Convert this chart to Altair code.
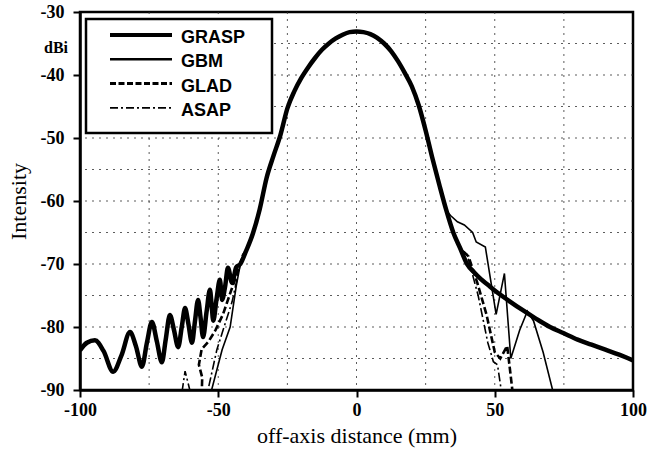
import altair as alt
import pandas as pd

# ---------------- data ----------------
series_names = ["GRASP", "GBM", "GLAD", "ASAP"]

# common main beam (mm, dBi)
beam_x = [-42, -40, -37.5, -35, -32.5, -30, -27.5, -25, -22.5, -20, -17.5, -15, -12.5, -10,
          -7.5, -5, -2.5, 0, 2.5, 5, 7.5, 10, 12.5, 15, 17.5, 20, 22.5, 25, 27.5, 30,
          32.5, 35, 37.5, 40]
beam_y = [-70, -68, -65.2, -61.3, -56.3, -52.8, -49.5, -45.3, -42.6, -40.5, -38.8, -37.3, -36, -35,
          -34.2, -33.6, -33.2, -33.1, -33.2, -33.5, -34.1, -35, -36.2, -37.8, -39.7, -41.8, -44.8, -48.8,
          -53.3, -57.5, -61.5, -65, -67.5, -70]

# GRASP side lobes
grasp_left_x = [-100, -97.5, -94.6, -91.5, -88, -85, -81.9, -79.8, -77.6, -75.8, -74, -72.2, -70.4,
                -69, -67.5, -66, -64.5, -63.2, -62, -60.8, -59.5, -58.4, -57.3, -56.4, -55.5, -54.2,
                -53, -52.4, -51.8, -50.6, -49.4, -48.6, -47.5, -46.5, -45, -43.5]
grasp_left_y = [-83.7, -82.5, -82.1, -83.8, -87.1, -84.5, -80.8, -83, -86.3, -82.5, -79.2, -82.3, -85.6,
                -82, -78.1, -80.5, -83.2, -80, -77, -79.5, -82.5, -79, -75.7, -78.5, -81.6, -77.5,
                -74.1, -76.5, -79, -75.5, -72.5, -75.7, -73.5, -70.6, -73, -70.5]
grasp_right_x = [42.5, 45, 47.5, 50, 55, 60, 65, 70, 75, 80, 85, 90, 95, 100]
grasp_right_y = [-71.3, -72.4, -73.3, -74.2, -75.8, -77.3, -78.7, -80, -81, -82, -82.8, -83.6, -84.4, -85.3]

# GBM tails
gbm_left_x = [-53, -48.6, -45.7, -43.5]
gbm_left_y = [-91, -83.6, -80, -73.5]
gbm_right_x = [34, 36.5, 39, 42, 43.3, 46.6, 50.5, 53.5, 55.8, 59, 61.8, 64, 67.5, 71.5]
gbm_right_y = [-62.3, -63.3, -63.8, -65, -66.5, -67.3, -78, -71.5, -85, -80.5, -77.5, -79, -84, -91]

# GLAD tails
glad_left_x = [-56, -55.8, -57, -56, -53.5, -51, -48.3, -44, -41]
glad_left_y = [-91, -88, -86, -83.5, -82.3, -80.5, -78, -72.5, -68.5]
glad_right_x = [40.5, 43.7, 47, 50, 52, 54.5, 56.5]
glad_right_y = [-68.8, -73, -78, -84, -85, -83, -90.5]

# ASAP tails
asap_left_x = [-64, -62, -60, -56.5, -53.7, -50.5, -45, -41.5]
asap_left_y = [-93, -87, -90.5, -91, -90, -83.6, -76, -69]
asap_right_x = [40, 44, 47.5, 49.5, 51, 52.5]
asap_right_y = [-68.5, -75, -82.5, -85.5, -86, -90.5]

x_ticks = [-100, -50, 0, 50, 100]
y_ticks = [-90, -80, -70, -60, -50, -40, -30]
grid_x = [-75, -50, -25, 0, 25, 50, 75]
grid_y = [-85, -80, -75, -70, -65, -60, -55, -50, -45, -40, -35]

# ---------------- build table ----------------
def build(name, lx, ly, lo, hi, rx, ry):
    xs = list(lx) + [b for b in beam_x if lo <= b <= hi] + list(rx)
    ys = list(ly) + [v for b, v in zip(beam_x, beam_y) if lo <= b <= hi] + list(ry)
    return pd.DataFrame({"series": name, "x": xs, "y": ys, "idx": range(len(xs))})

df = pd.concat([
    build("GRASP", grasp_left_x, grasp_left_y, -42, 40, grasp_right_x, grasp_right_y),
    build("GBM", gbm_left_x, gbm_left_y, -42, 32.5, gbm_right_x, gbm_right_y),
    build("GLAD", glad_left_x, glad_left_y, -40, 37.5, glad_right_x, glad_right_y),
    build("ASAP", asap_left_x, asap_left_y, -40, 37.5, asap_right_x, asap_right_y),
], ignore_index=True)

serif = "Liberation Serif"
sans = "Liberation Sans"

xscale = alt.Scale(domain=[-100, 100], nice=False, zero=False)
yscale = alt.Scale(domain=[-90, -30], nice=False, zero=False)

xaxis = alt.Axis(values=x_ticks, title="off-axis distance (mm)", grid=False,
                 labelExpr="'' + datum.value",
                 labelFont=serif, labelFontSize=18, labelFontWeight="bold", labelColor="black",
                 labelFlush=False, labelOverlap=False, labelPadding=4,
                 tickSize=7, tickWidth=2, tickColor="black",
                 domainColor="black", domainWidth=2.5,
                 titleFont=serif, titleFontSize=22, titleFontWeight="normal", titleColor="black",
                 titleBaseline="middle", titleY=45)
yaxis = alt.Axis(values=y_ticks, title="Intensity", grid=False,
                 labelExpr="'' + datum.value",
                 labelFont=serif, labelFontSize=18, labelFontWeight="bold", labelColor="black",
                 labelFlush=False, labelOverlap=False, labelPadding=9,
                 tickSize=7, tickWidth=2, tickColor="black",
                 domainColor="black", domainWidth=2.5,
                 titleFont=serif, titleFontSize=22, titleFontWeight="normal", titleColor="black",
                 titleAngle=270, titleX=-62, titleY=189, titleAlign="center", titleBaseline="middle")


def X(field):
    return alt.X(field, type="quantitative", scale=xscale, axis=xaxis)


def Y(field):
    return alt.Y(field, type="quantitative", scale=yscale, axis=yaxis)


grid_v = alt.Chart(pd.DataFrame({"gx": grid_x})).mark_rule(
    color="#333333", strokeWidth=1, strokeDash=[2, 5], opacity=0.8
).encode(x=X("gx"))
grid_h = alt.Chart(pd.DataFrame({"gy": grid_y})).mark_rule(
    color="#333333", strokeWidth=1, strokeDash=[2, 5], opacity=0.8
).encode(y=Y("gy"))

styles = {
    "GRASP": dict(strokeWidth=4.5, interpolate="monotone"),
    "GBM": dict(strokeWidth=1.6),
    "GLAD": dict(strokeWidth=2.6, strokeDash=[7, 3]),
    "ASAP": dict(strokeWidth=1.6, strokeDash=[9, 3, 2, 3]),
}

line_layers = []
for name in series_names:
    line_layers.append(
        alt.Chart(df).transform_filter(alt.datum.series == name)
        .mark_line(color="black", clip=True, **styles[name])
        .encode(x=X("x"), y=Y("y"), order=alt.Order("idx:Q"))
    )

one = pd.DataFrame({"k": [0]})
legend_box = alt.Chart(one).mark_rect(fill="white", stroke="black", strokeWidth=2.5).encode(
    x=alt.value(6), x2=alt.value(192), y=alt.value(7), y2=alt.value(121))

legend_styles = {
    "GRASP": dict(strokeWidth=4),
    "GBM": dict(strokeWidth=2.4),
    "GLAD": dict(strokeWidth=3, strokeDash=[6, 2.5]),
    "ASAP": dict(strokeWidth=1.8, strokeDash=[8, 3, 2, 3]),
}
legend_layers = []
for i, name in enumerate(series_names):
    yl = 23 + 24.3 * i
    legend_layers.append(
        alt.Chart(one).mark_rule(color="black", **legend_styles[name]).encode(
            x=alt.value(30), x2=alt.value(92), y=alt.value(yl))
    )
    legend_layers.append(
        alt.Chart(one).mark_text(text=name, font=sans, fontSize=18, fontWeight="bold", align="left",
                                 baseline="middle", color="black").encode(
            x=alt.value(101), y=alt.value(yl + 3))
    )

dbi = alt.Chart(one).mark_text(text="dBi", font=serif, fontSize=16, fontWeight="bold",
                               align="center", baseline="middle", color="black").encode(
    x=alt.value(-24), y=alt.value(36))

chart = alt.layer(grid_v, grid_h, *line_layers, legend_box, *legend_layers, dbi).properties(
    width=553, height=378,
    autosize=alt.AutoSizeParams(type="none"),
    padding={"left": 80, "top": 12, "right": 18, "bottom": 60},
    background="white",
).configure_view(stroke="black", strokeWidth=2.5)

chart.save("out.html", embed_options={"renderer": "svg", "actions": False})
